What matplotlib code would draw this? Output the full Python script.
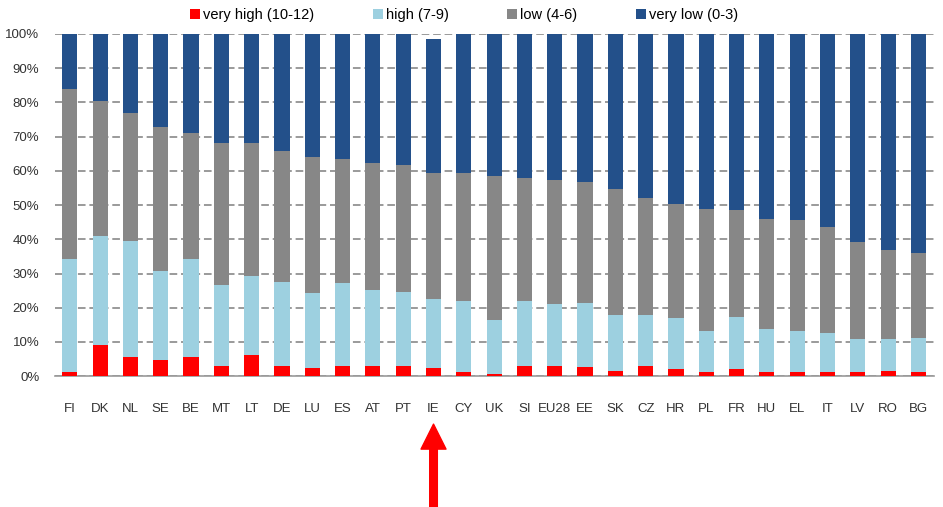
import matplotlib
matplotlib.use("Agg")
import matplotlib.pyplot as plt
import numpy as np
from matplotlib.patches import Patch

# Countries in chart order.
countries = ["FI", "DK", "NL", "SE", "BE", "MT", "LT", "DE", "LU", "ES", "AT", "PT", "IE", "CY",
             "UK", "SI", "EU28", "EE", "SK", "CZ", "HR", "PL", "FR", "HU", "EL", "IT", "LV", "RO", "BG"]

# Shares per level (%).
very_high = [1.3, 9.0, 5.6, 4.6, 5.6, 3.1, 6.1, 3.1, 2.4, 3.1, 3.1, 3.1, 2.4, 1.3,
             0.6, 3.1, 2.9, 2.7, 1.4, 3.1, 2.2, 1.2, 2.1, 1.3, 1.2, 1.2, 1.3, 1.6, 1.2]
high = [32.9, 31.9, 33.9, 26.2, 28.5, 23.5, 23.2, 24.3, 22.0, 24.0, 22.0, 21.4, 20.1, 20.7,
        15.8, 18.9, 18.2, 18.7, 16.4, 14.7, 14.7, 12.0, 15.2, 12.6, 12.0, 11.3, 9.5, 9.2, 9.9]
low = [49.7, 39.4, 37.3, 42.1, 37.1, 41.6, 38.9, 38.5, 39.7, 36.4, 37.1, 37.3, 37.0, 37.5,
       42.2, 35.8, 36.1, 35.3, 36.9, 34.2, 33.4, 35.8, 31.4, 31.9, 32.4, 31.2, 28.5, 26.2, 25.0]
very_low = [16.1, 19.7, 23.2, 27.1, 28.8, 31.8, 31.8, 34.1, 35.9, 36.5, 37.8, 38.2, 39.0, 40.5,
            41.4, 42.2, 42.8, 43.3, 45.3, 48.0, 49.7, 51.0, 51.3, 54.2, 54.4, 56.3, 60.7, 63.0, 63.9]

series = [very_high, high, low, very_low]
labels = ["very high (10-12)", "high (7-9)", "low (4-6)", "very low (0-3)"]
colors = ["#ff0000", "#9dd0e0", "#878787", "#23508a"]

font = ["Liberation Sans Narrow", "Liberation Sans", "DejaVu Sans"]
plt.rcParams["font.family"] = font

fig = plt.figure(figsize=(9.43, 5.07), dpi=100)
ax = fig.add_axes([0.058, 0.258, 0.932, 0.675])

x = np.arange(len(countries))
bottom = np.zeros(len(countries))
for vals, col in zip(series, colors):
    ax.bar(x, vals, width=0.5, bottom=bottom, color=col, zorder=3, linewidth=0)
    bottom += np.array(vals)

ax.set_xlim(-0.5, len(countries) - 0.5)
ax.set_ylim(0, 100)
ax.set_yticks(np.arange(0, 101, 10))
ax.set_yticklabels([f"{v}%" for v in range(0, 101, 10)], fontsize=9.5, color="#333333")
ax.set_xticks(x)
ax.set_xticklabels(countries, fontsize=9.5, color="#333333")
ax.tick_params(axis="both", length=0)
ax.tick_params(axis="x", pad=19)
ax.tick_params(axis="y", pad=11)

ax.yaxis.grid(True, color="#7f7f7f", linestyle=(0, (5, 2.5)), linewidth=1.1, zorder=0)
for s in ["top", "right", "left"]:
    ax.spines[s].set_visible(False)
ax.spines["bottom"].set_color("#9a9a9a")
ax.spines["bottom"].set_linewidth(1.2)

# Red arrow pointing at IE.
ie = countries.index("IE")
ax.annotate("", xy=(ie, -14), xytext=(ie, -38.5),
            arrowprops=dict(facecolor="#ff0000", edgecolor="#ff0000", width=5.5,
                            headwidth=18, headlength=18, shrink=0),
            annotation_clip=False)

handles = [Patch(facecolor=c, edgecolor="none") for c in colors]
fig.legend(handles, labels, loc="upper center", bbox_to_anchor=(0.492, 1.01), ncol=4,
           frameon=False, fontsize=10.5, handlelength=0.7, handleheight=0.7,
           handletextpad=0.2, columnspacing=4.0)

fig.savefig("out.png", dpi=100)
